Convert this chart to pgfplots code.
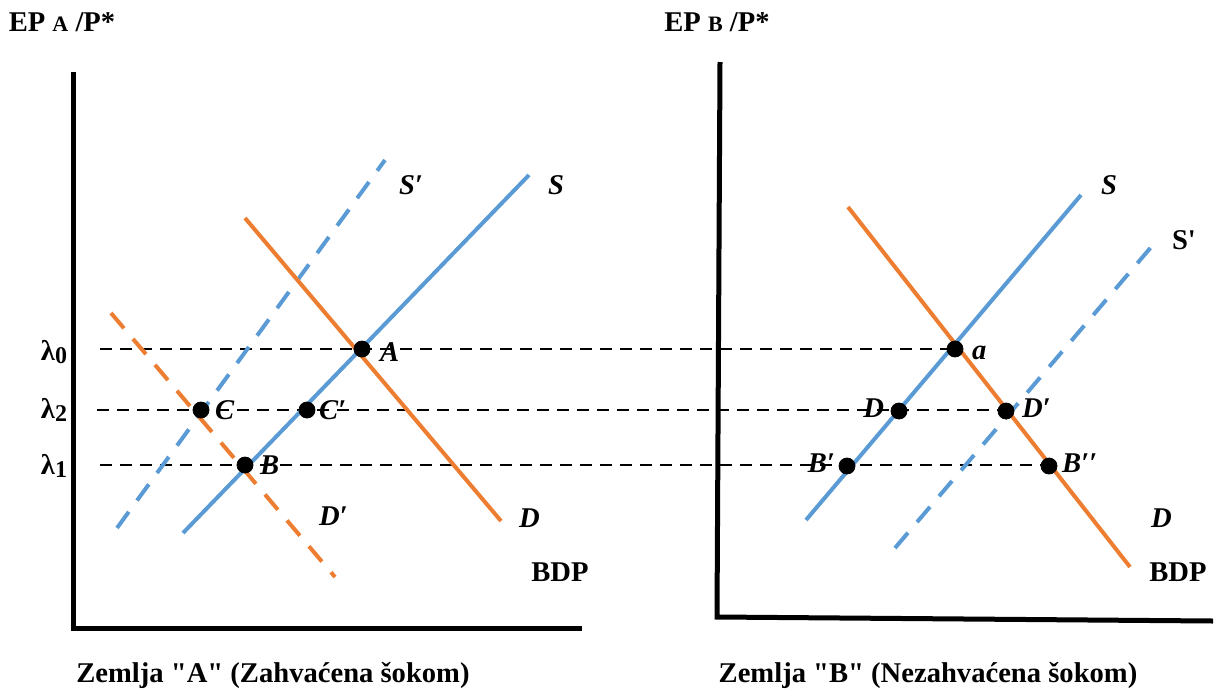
\documentclass[border=0pt]{standalone}
\usepackage{pgfplots}
\pgfplotsset{compat=1.18}
\usepackage{fontspec}
\setmainfont{Liberation Serif}[Ligatures=TeXOff]
\definecolor{sblue}{HTML}{5B9BD5}
\definecolor{dorange}{HTML}{ED7D31}
\begin{document}
\begin{tikzpicture}[font=\fontsize{14.3}{16}\selectfont\bfseries]
\begin{axis}[
  scale only axis, width=607.5pt, height=345.5pt,
  xmin=0, xmax=1215, ymin=0, ymax=691, y dir=reverse,
  axis lines=none, clip=false,
]
% axes frames
\addplot[black, line width=2.5pt] coordinates {(73,72) (73,628) (582,628)};
\addplot[black, line width=2.5pt] coordinates {(720,62) (717,617) (1213,621)};
% horizontal dashed guides
\addplot[black, line width=1pt, dash pattern=on 6pt off 4pt] coordinates {(100,349) (955,349)};
\addplot[black, line width=1pt, dash pattern=on 6pt off 4pt] coordinates {(97,410) (1006,410)};
\addplot[black, line width=1pt, dash pattern=on 6pt off 4pt] coordinates {(100,465) (1049,465)};
% left chart
\addplot[sblue, line width=2pt] coordinates {(183,533) (529,175)};
\addplot[sblue, line width=2pt, dash pattern=on 10pt off 7pt] coordinates {(117,528) (385,160)};
\addplot[dorange, line width=2pt] coordinates {(245,218) (501,521)};
\addplot[dorange, line width=2pt, dash pattern=on 10pt off 7pt] coordinates {(111,313) (335,577)};
% right chart
\addplot[sblue, line width=2pt] coordinates {(806,520) (1081,195)};
\addplot[sblue, line width=2pt, dash pattern=on 10pt off 7pt] coordinates {(895,548) (1152,246)};
\addplot[dorange, line width=2pt] coordinates {(848,207) (1130,567)};
% points
\addplot[only marks, mark=*, mark size=4pt, black] coordinates {
 (362,349) (201,410) (307,410) (245,465)
 (955,349) (899,411) (1006,411) (847,466) (1049,466)};
% labels
\node at (62,22) {EP {\fontsize{11}{11}\selectfont A} /P*};
\node at (717,22) {EP {\fontsize{11}{11}\selectfont B} /P*};
\node at (54,352) {λ\raisebox{-1.5pt}{\fontsize{12}{12}\selectfont 0}};
\node at (54,410) {λ\raisebox{-1.5pt}{\fontsize{12}{12}\selectfont 2}};
\node at (54,466) {λ\raisebox{-1.5pt}{\fontsize{12}{12}\selectfont 1}};
\node[anchor=west] at (373,352) {\itshape A};
\node[anchor=west] at (208,410) {\itshape C};
\node[anchor=west] at (312,410) {\itshape C′};
\node[anchor=west] at (253,465) {\itshape B};
\node[anchor=west] at (392,185) {\itshape S′};
\node[anchor=west] at (541,185) {\itshape S};
\node[anchor=west] at (312,516) {\itshape D′};
\node[anchor=west] at (512,518) {\itshape D};
\node at (560,572) {BDP};
\node[anchor=west] at (1094,185) {\itshape S};
\node[anchor=west] at (1165,240) {S'};
\node[anchor=west] at (1144,518) {\itshape D};
\node at (1178,572) {BDP};
\node[anchor=west] at (965,353) {\itshape a};
\node[anchor=east] at (891,408) {\itshape D};
\node[anchor=west] at (1015,408) {\itshape D′};
\node[anchor=east] at (842,463) {\itshape B′};
\node[anchor=west] at (1055,463) {\itshape B′′};
\node at (273,675) {Zemlja "A" (Zahvaćena šokom)};
\node at (928,675) {Zemlja "B" (Nezahvaćena šokom)};
\end{axis}
\pgfresetboundingbox
\path (current axis.south west) rectangle (current axis.north east);
\end{tikzpicture}
\end{document}
